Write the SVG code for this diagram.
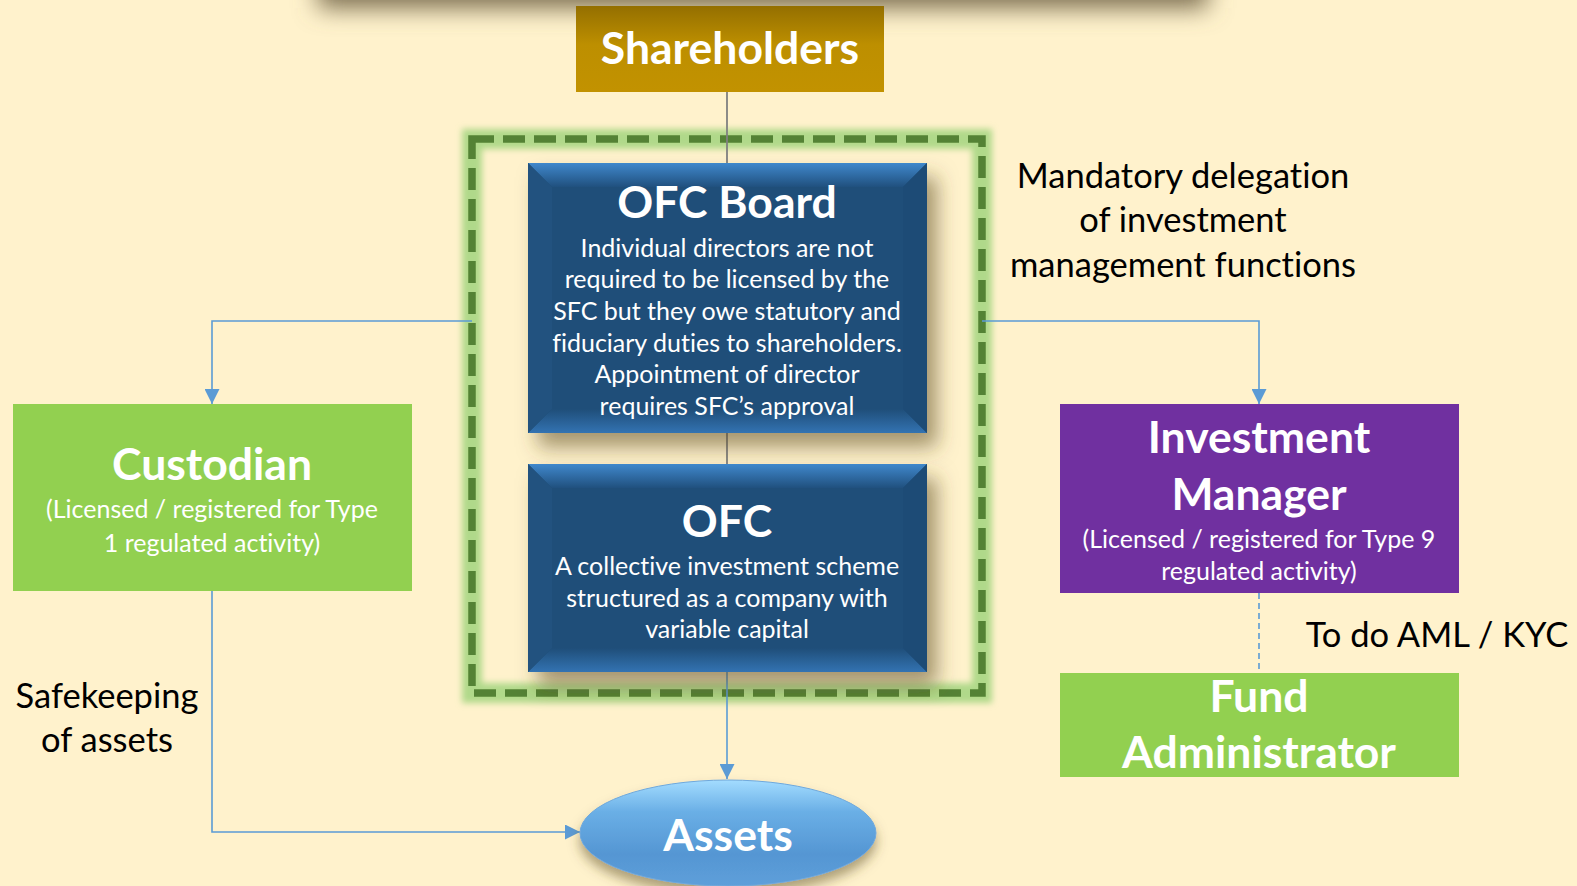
<svg xmlns="http://www.w3.org/2000/svg" width="1577" height="886" viewBox="0 0 1577 886">
<defs>
<style>
.t{font-family:Lato,"Open Sans","DejaVu Sans",sans-serif;text-anchor:middle;font-variant-ligatures:none;}
.ti{font-weight:700;font-size:44.5px;fill:#fff;}
.bd{font-size:25px;fill:#fff;}
.lb{font-size:34.5px;fill:#000;}
.con{fill:none;stroke:#5B9BD5;stroke-width:1.6;}
.gry{fill:none;stroke:#808080;stroke-width:1.8;}
</style>
<marker id="ar" viewBox="0 0 10 10" refX="10" refY="5" markerWidth="15" markerHeight="15" markerUnits="userSpaceOnUse" orient="auto">
<path d="M0,0 L10,5 L0,10 Z" fill="#5B9BD5"/>
</marker>
<linearGradient id="gold" x1="0" y1="0" x2="0" y2="1">
<stop offset="0" stop-color="#946F00"/>
<stop offset="0.45" stop-color="#BD8F00"/>
<stop offset="1" stop-color="#C29200"/>
</linearGradient>
<linearGradient id="bevTop" x1="0" y1="0" x2="0" y2="1">
<stop offset="0" stop-color="#4088CC"/>
<stop offset="1" stop-color="#20507E"/>
</linearGradient>
<linearGradient id="bevBot" x1="0" y1="0" x2="0" y2="1">
<stop offset="0" stop-color="#1F4E79"/>
<stop offset="1" stop-color="#3373B2"/>
</linearGradient>
<linearGradient id="ast" x1="0" y1="0" x2="0" y2="1">
<stop offset="0" stop-color="#A3DCFF"/>
<stop offset="0.3" stop-color="#6AAFE6"/>
<stop offset="0.7" stop-color="#5596D3"/>
<stop offset="1" stop-color="#5E9FDA"/>
</linearGradient>
<filter id="sh" x="-20%" y="-20%" width="150%" height="160%">
<feDropShadow dx="10" dy="14" stdDeviation="10" flood-color="#5a4a20" flood-opacity="0.55"/>
</filter>
<filter id="sh2" x="-20%" y="-30%" width="140%" height="180%">
<feDropShadow dx="0" dy="8" stdDeviation="6" flood-color="#5a4a20" flood-opacity="0.5"/>
</filter>
<filter id="blur" x="-10%" y="-200%" width="120%" height="500%">
<feGaussianBlur stdDeviation="12"/>
</filter>
<filter id="glow" x="-10%" y="-10%" width="120%" height="120%">
<feGaussianBlur stdDeviation="3"/>
</filter>
</defs>

<rect x="0" y="0" width="1577" height="886" fill="#FFF2CC"/>

<!-- top shadow of off-canvas element -->
<rect x="318" y="-60" width="890" height="68" fill="#7a6d50" filter="url(#blur)"/>

<!-- dashed container -->
<g id="container">
<rect x="472" y="139" width="510" height="554" fill="none" stroke="#B0D98A" stroke-width="20" filter="url(#glow)"/>
<rect x="472" y="139" width="510" height="554" fill="none" stroke="#548235" stroke-width="7.5" stroke-dasharray="22 9"/>
</g>

<g id="connectors">
<line class="gry" x1="727" y1="92" x2="727" y2="163"/>
<line class="gry" x1="727" y1="433" x2="727" y2="464"/>
<path class="con" d="M727,672 V779" marker-end="url(#ar)"/>
<path class="con" d="M472,321 H212 V404" marker-end="url(#ar)"/>
<path class="con" d="M982,321 H1259 V404" marker-end="url(#ar)"/>
<path class="con" d="M212,591 V832 H580" marker-end="url(#ar)"/>
<path class="con" d="M1259,593 V673" stroke-dasharray="6 4"/>
</g>

<g id="shareholders">
<rect x="576" y="6" width="308" height="86" fill="url(#gold)"/>
<text class="t ti" x="730" y="64">Shareholders</text>
</g>

<g id="ofc-board">
<g filter="url(#sh)">
<rect x="528" y="163" width="399" height="270" fill="#1F4E79"/>
</g>
<polygon points="528,163 927,163 903,187 552,187" fill="url(#bevTop)"/>
<polygon points="528,433 927,433 903,409 552,409" fill="url(#bevBot)"/>
<polygon points="528,163 552,187 552,409 528,433" fill="#22527F"/>
<polygon points="927,163 903,187 903,409 927,433" fill="#1D4B76"/>
<rect x="552" y="187" width="351" height="222" fill="#1F4E79"/>
<text class="t ti" x="727" y="218">OFC Board</text>
<text class="t bd" x="727" y="257">Individual directors are not</text>
<text class="t bd" x="727" y="288">required to be licensed by the</text>
<text class="t bd" x="727" y="320">SFC but they owe statutory and</text>
<text class="t bd" x="727" y="352">fiduciary duties to shareholders.</text>
<text class="t bd" x="727" y="383">Appointment of director</text>
<text class="t bd" x="727" y="415">requires SFC’s approval</text>
</g>

<g id="ofc">
<g filter="url(#sh)">
<rect x="528" y="464" width="399" height="208" fill="#1F4E79"/>
</g>
<polygon points="528,464 927,464 903,488 552,488" fill="url(#bevTop)"/>
<polygon points="528,672 927,672 903,648 552,648" fill="url(#bevBot)"/>
<polygon points="528,464 552,488 552,648 528,672" fill="#22527F"/>
<polygon points="927,464 903,488 903,648 927,672" fill="#1D4B76"/>
<rect x="552" y="488" width="351" height="160" fill="#1F4E79"/>
<text class="t ti" x="727" y="537">OFC</text>
<text class="t bd" x="727" y="575">A collective investment scheme</text>
<text class="t bd" x="727" y="607">structured as a company with</text>
<text class="t bd" x="727" y="638">variable capital</text>
</g>

<g id="custodian">
<rect x="13" y="404" width="399" height="187" fill="#92D050"/>
<text class="t ti" x="212" y="480">Custodian</text>
<text class="t bd" x="212" y="518">(Licensed / registered for Type</text>
<text class="t bd" x="212" y="552">1 regulated activity)</text>
</g>

<g id="investment-manager">
<rect x="1060" y="404" width="399" height="189" fill="#7030A0"/>
<text class="t ti" x="1259" y="453">Investment</text>
<text class="t ti" x="1259" y="510">Manager</text>
<text class="t bd" x="1259" y="548">(Licensed / registered for Type 9</text>
<text class="t bd" x="1259" y="580">regulated activity)</text>
</g>

<g id="fund-administrator">
<rect x="1060" y="673" width="399" height="104" fill="#92D050"/>
<text class="t ti" x="1259" y="712">Fund</text>
<text class="t ti" x="1259" y="768">Administrator</text>
</g>

<g id="assets">
<ellipse cx="728" cy="833" rx="148" ry="53" fill="url(#ast)" stroke="#6FA8DC" stroke-width="1" filter="url(#sh2)"/>
<text class="t ti" x="728" y="851">Assets</text>
</g>

<g id="labels">
<text class="t lb" x="1183" y="188">Mandatory delegation</text>
<text class="t lb" x="1183" y="232">of investment</text>
<text class="t lb" x="1183" y="277">management functions</text>
<text class="t lb" x="1437" y="647">To do AML / KYC</text>
<text class="t lb" x="107" y="708">Safekeeping</text>
<text class="t lb" x="107" y="752">of assets</text>
</g>
</svg>
